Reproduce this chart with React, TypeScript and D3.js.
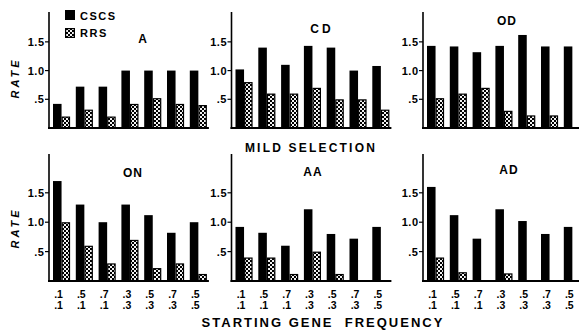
import React from "react";
import * as d3 from "d3";

// Starting gene frequencies, two rows under each group
const freqRow1 = [".1", ".5", ".7", ".3", ".5", ".7", ".5"];
const freqRow2 = [".1", ".1", ".1", ".3", ".3", ".3", ".5"];

const seriesNames = ["CSCS", "RRS"];
const yTicks = [0.5, 1.0, 1.5];
const yTickLabels = [".5", "1.0", "1.5"];

const panelNames = ["A", "CD", "OD", "ON", "AA", "AD"];

// Rates per panel (null = no bar)
const cscsA = [0.42, 0.72, 0.72, 1.0, 1.0, 1.0, 1.0];
const rrsA = [0.2, 0.32, 0.2, 0.42, 0.52, 0.42, 0.4];
const cscsCD = [1.02, 1.4, 1.1, 1.43, 1.4, 1.0, 1.08];
const rrsCD = [0.8, 0.6, 0.6, 0.7, 0.5, 0.5, 0.32];
const cscsOD = [1.43, 1.42, 1.32, 1.43, 1.62, 1.42, 1.42];
const rrsOD = [0.52, 0.6, 0.7, 0.3, 0.22, 0.22, null];
const cscsON = [1.7, 1.3, 1.0, 1.3, 1.12, 0.82, 1.0];
const rrsON = [1.0, 0.6, 0.3, 0.7, 0.22, 0.3, 0.12];
const cscsAA = [0.92, 0.82, 0.6, 1.22, 0.8, 0.72, 0.92];
const rrsAA = [0.4, 0.4, 0.12, 0.5, 0.12, null, null];
const cscsAD = [1.6, 1.12, 0.72, 1.22, 1.02, 0.8, 0.92];
const rrsAD = [0.4, 0.15, null, 0.13, null, null, null];

const cscsAll = [cscsA, cscsCD, cscsOD, cscsON, cscsAA, cscsAD];
const rrsAll = [rrsA, rrsCD, rrsOD, rrsON, rrsAA, rrsAD];

const FONT = "'Liberation Sans', Arial, Helvetica, sans-serif";

// layout of the 2x3 grid
const colAxisX = [49, 231.5, 423];
const rows = [
  { base: 128, top: 12, max: 2.02 },
  { base: 281, top: 154, max: 2.16 },
];
const titlePos = [
  { x: 143, y: 43 },
  { x: 322, y: 33 },
  { x: 507, y: 25 },
  { x: 133, y: 177 },
  { x: 313, y: 176 },
  { x: 509, y: 174 },
];
const step = 22.8;
const padInner = 0.25;

function Panel({ idx }: { idx: number }) {
  const col = idx % 3;
  const row = Math.floor(idx / 3);
  const ax = colAxisX[col];
  const r = rows[row];
  const groups = d3.range(7).map(String);
  const x0 = ax + 4;
  const x = d3
    .scaleBand<string>()
    .domain(groups)
    .range([x0, x0 + step * (7 - padInner)])
    .paddingInner(padInner)
    .paddingOuter(0)
    .align(0);
  const xs = d3.scaleBand<string>().domain(seriesNames).range([0, x.bandwidth()]);
  const y = d3.scaleLinear().domain([0, r.max]).range([r.base, r.top]);
  const cscs = cscsAll[idx];
  const rrs = rrsAll[idx];
  const endX = x0 + step * (7 - padInner) + 2;
  const t = titlePos[idx];

  return (
    <g>
      {groups.map((g, i) => (
        <g key={g}>
          {cscs[i] != null && (
            <rect
              x={x(g)! + xs("CSCS")!}
              y={y(cscs[i] as number)}
              width={xs.bandwidth()}
              height={y(0) - y(cscs[i] as number)}
              fill="#000"
            />
          )}
          {rrs[i] != null && (
            <rect
              x={x(g)! + xs("RRS")! + 0.6}
              y={y(rrs[i] as number) + 0.6}
              width={xs.bandwidth() - 1.2}
              height={y(0) - y(rrs[i] as number) - 0.6}
              fill="url(#hatch)"
              stroke="#000"
              strokeWidth={1.2}
            />
          )}
        </g>
      ))}
      {/* y axis */}
      <line x1={ax} x2={ax} y1={r.top} y2={r.base + 1} stroke="#000" strokeWidth={1.6} />
      <line x1={ax - 1} x2={endX} y1={r.base} y2={r.base} stroke="#000" strokeWidth={1.8} />
      {yTicks.map((v, i) => (
        <g key={v}>
          <line x1={ax - 4} x2={ax} y1={y(v)} y2={y(v)} stroke="#000" strokeWidth={1.2} />
          <text
            x={ax - 4.5}
            y={y(v) + 4}
            textAnchor="end"
            fontFamily={FONT}
            fontWeight="bold"
            fontSize={11}
            letterSpacing={0.5}
          >
            {yTickLabels[i]}
          </text>
        </g>
      ))}
      {row === 1 &&
        groups.map((g, i) => (
          <g key={"l" + g}>
            <text
              x={x(g)! + x.bandwidth() / 2 - 3}
              y={298}
              textAnchor="middle"
              fontFamily={FONT}
              fontWeight="bold"
              fontSize={10.5}
            >
              {freqRow1[i]}
            </text>
            <text
              x={x(g)! + x.bandwidth() / 2 - 3}
              y={309}
              textAnchor="middle"
              fontFamily={FONT}
              fontWeight="bold"
              fontSize={10.5}
            >
              {freqRow2[i]}
            </text>
          </g>
        ))}
      <text
        x={t.x}
        y={t.y}
        textAnchor="middle"
        fontFamily={FONT}
        fontWeight="bold"
        fontSize={12}
        letterSpacing={idx === 1 ? 3 : 1}
      >
        {panelNames[idx]}
      </text>
    </g>
  );
}

export default function App() {
  return (
    <svg width={579} height={332} style={{ display: "block", position: "absolute", left: 0, top: 0 }}>
      <defs>
        <pattern id="hatch" width={4} height={4} patternUnits="userSpaceOnUse">
          <rect width={4} height={4} fill="#000" />
          <rect x={0} y={0} width={2} height={2} fill="#f2f2f2" />
          <rect x={2} y={2} width={2} height={2} fill="#f2f2f2" />
        </pattern>
      </defs>
      <rect width={579} height={332} fill="#fff" />
      {panelNames.map((_, i) => (
        <Panel key={i} idx={i} />
      ))}
      {/* legend */}
      <rect x={65} y={10} width={10} height={10} fill="#000" />
      <rect x={65.6} y={28.6} width={8.8} height={8.8} fill="url(#hatch)" stroke="#000" strokeWidth={1.2} />
      <text x={80} y={19.5} fontFamily={FONT} fontWeight="bold" fontSize={11} letterSpacing={1.5}>
        {seriesNames[0]}
      </text>
      <text x={80} y={37} fontFamily={FONT} fontWeight="bold" fontSize={11} letterSpacing={1.5}>
        {seriesNames[1]}
      </text>
      {/* axis titles */}
      {[78, 228].map((cy) => (
        <text
          key={cy}
          transform={`translate(19,${cy}) rotate(-90)`}
          textAnchor="middle"
          fontFamily={FONT}
          fontWeight="bold"
          fontStyle="italic"
          fontSize={11}
          letterSpacing={3}
        >
          RATE
        </text>
      ))}
      <text
        x={311}
        y={152}
        textAnchor="middle"
        fontFamily={FONT}
        fontWeight="bold"
        fontSize={12}
        letterSpacing={2.2}
      >
        MILD SELECTION
      </text>
      <text
        x={323}
        y={327}
        textAnchor="middle"
        fontFamily={FONT}
        fontWeight="bold"
        fontSize={13}
        letterSpacing={2}
        style={{ whiteSpace: "pre" }}
      >
        STARTING GENE  FREQUENCY
      </text>
    </svg>
  );
}
